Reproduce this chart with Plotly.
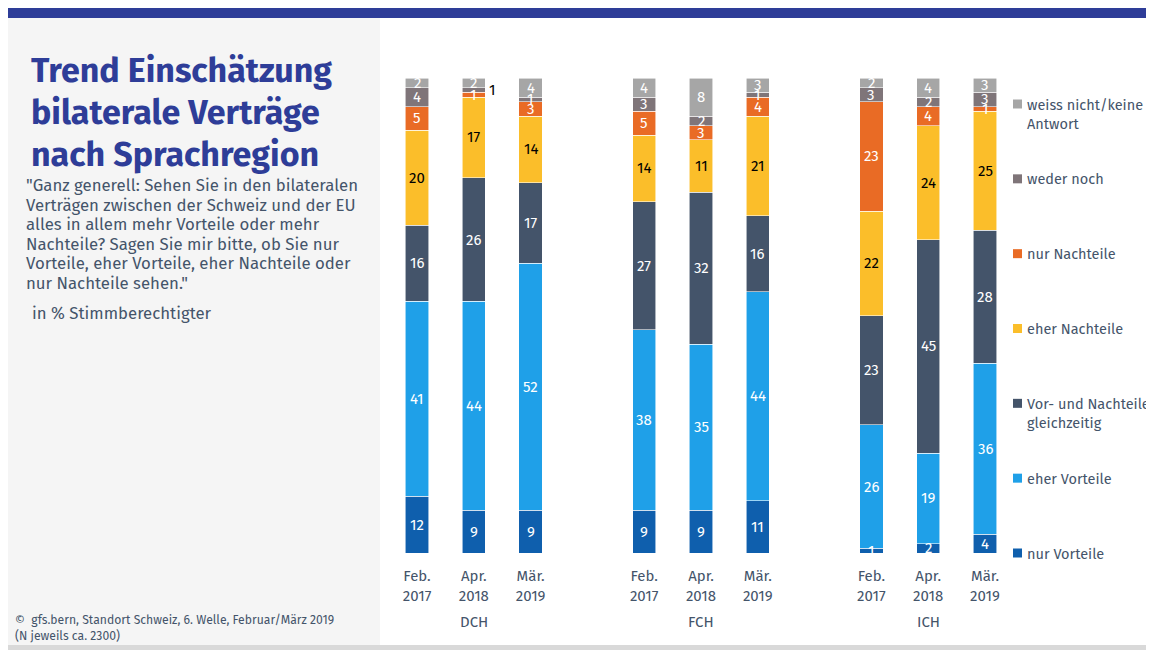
import plotly.graph_objects as go

# ---- data ----
periods = ["Feb.<br>2017", "Apr.<br>2018", "Mär.<br>2019"]
regions = ["DCH", "FCH", "ICH"]
series_names = ["nur Vorteile", "eher Vorteile", "Vor- und Nachteile<br>gleichzeitig",
                "eher Nachteile", "nur Nachteile", "weder noch", "weiss nicht/keine<br>Antwort"]
colors = ["#0F5FAD", "#1FA0E8", "#44546A", "#FBBE2A", "#E96B25", "#7F7579", "#A6A6A6"]
label_colors = ["white", "white", "white", "black", "white", "white", "white"]

# order: DCH(Feb17, Apr18, Mar19), FCH(...), ICH(...)
nur_vorteile =   [12, 9, 9,   9, 9, 11,   1, 2, 4]
eher_vorteile =  [41, 44, 52, 38, 35, 44, 26, 19, 36]
vor_nachteile =  [16, 26, 17, 27, 32, 16, 23, 45, 28]
eher_nachteile = [20, 17, 14, 14, 11, 21, 22, 24, 25]
nur_nachteile =  [5, 1, 3,    5, 3, 4,    23, 4, 1]
weder_noch =     [4, 1, 1,    3, 2, 1,    3, 2, 3]
weiss_nicht =    [2, 2, 4,    4, 8, 3,    2, 4, 3]
series = [nur_vorteile, eher_vorteile, vor_nachteile, eher_nachteile,
          nur_nachteile, weder_noch, weiss_nicht]

title_lines = ["Trend Einschätzung", "bilaterale Verträge", "nach Sprachregion"]
subtitle_lines = ['"Ganz generell: Sehen Sie in den bilateralen',
                  'Verträgen zwischen der Schweiz und der EU',
                  'alles in allem mehr Vorteile oder mehr',
                  'Nachteile? Sagen Sie mir bitte, ob Sie nur',
                  'Vorteile, eher Vorteile, eher Nachteile oder',
                  'nur Nachteile sehen."']
unit_text = "in % Stimmberechtigter"
footer_text = "©  gfs.bern, Standort Schweiz, 6. Welle, Februar/März 2019<br>(N jeweils ca. 2300)"

# x slots with a gap between regions
xpos = [0, 1, 2, 4, 5, 6, 8, 9, 10]
ticktexts = periods * 3

W, H = 1154, 650
OFF = 8  # page body margin
def px_x(p): return (p - OFF) / W
def px_y(p): return 1 - (p - OFF) / H

font_fam = "Fira Sans, Open Sans, Noto Sans, sans-serif"
text_col = "#44546A"

fig = go.Figure()
for name, vals, col in zip(series_names, series, colors):
    fig.add_trace(go.Bar(x=xpos, y=vals, name=name, marker_color=col,
                         marker_line=dict(width=0.8, color="rgba(255,255,255,0.7)"),
                         width=0.41, showlegend=False, hoverinfo="skip"))

annotations = []
# segment labels
for i, x in enumerate(xpos):
    base = 0
    for s, vals in enumerate(series):
        v = vals[i]
        mid = base + v / 2
        base += v
        if s == 5 and i == 1:
            annotations.append(dict(x=x + 0.33, y=mid, xref="x", yref="y", text=str(v),
                                    showarrow=False, xanchor="center",
                                    font=dict(size=15, color="black", family=font_fam)))
        else:
            annotations.append(dict(x=x, y=mid, xref="x", yref="y", text=str(v),
                                    showarrow=False,
                                    font=dict(size=15, color=label_colors[s], family=font_fam)))

# region labels
for r, name in enumerate(regions):
    annotations.append(dict(x=xpos[r * 3 + 1], y=px_y(622), xref="x", yref="paper", text=name,
                            showarrow=False, yanchor="middle",
                            font=dict(size=15, color=text_col, family=font_fam)))

# legend (custom)
shapes = []
legend_top, legend_bottom = 104, 553
n = len(series_names)
for k in range(n):
    idx = n - 1 - k
    yc = legend_top + k * (legend_bottom - legend_top) / (n - 1)
    shapes.append(dict(type="rect", xref="paper", yref="paper",
                       x0=px_x(1013), x1=px_x(1022), y0=px_y(yc + 4.5), y1=px_y(yc - 4.5),
                       fillcolor=colors[idx], line=dict(width=0)))
    annotations.append(dict(x=px_x(1025), y=px_y(yc - 10.5), xref="paper", yref="paper",
                            text=series_names[idx], showarrow=False, xanchor="left",
                            yanchor="top", align="left",
                            font=dict(size=14.5, color=text_col, family=font_fam)))

# background decoration
shapes.insert(0, dict(type="rect", xref="paper", yref="paper", layer="below",
                      x0=0, x1=px_x(380), y0=px_y(645), y1=px_y(18),
                      fillcolor="#F5F5F5", line=dict(width=0)))
shapes.insert(0, dict(type="rect", xref="paper", yref="paper", layer="below",
                      x0=0, x1=1, y0=px_y(18), y1=1,
                      fillcolor="#2E3D98", line=dict(width=0)))
shapes.insert(0, dict(type="rect", xref="paper", yref="paper", layer="below",
                      x0=0, x1=1, y0=px_y(650), y1=px_y(645),
                      fillcolor="#D9D9D9", line=dict(width=0)))

# title lines
for j, t in enumerate(title_lines):
    annotations.append(dict(x=px_x(29), y=px_y(71 + j * 41.5), xref="paper", yref="paper",
                            text="<b>" + t + "</b>", showarrow=False, xanchor="left",
                            yanchor="middle",
                            font=dict(size=34, color="#2E3D98", family=font_fam)))

for j, t in enumerate(subtitle_lines):
    annotations.append(dict(x=px_x(24), y=px_y(185 + j * 19.6), xref="paper", yref="paper",
                            text=t, showarrow=False, xanchor="left", yanchor="middle",
                            font=dict(size=16.8, color=text_col, family=font_fam)))
annotations.append(dict(x=px_x(30), y=px_y(313), xref="paper", yref="paper",
                        text=unit_text, showarrow=False, xanchor="left",
                        yanchor="middle",
                        font=dict(size=16.8, color=text_col, family=font_fam)))
annotations.append(dict(x=px_x(13), y=px_y(611), xref="paper", yref="paper",
                        text=footer_text,
                        showarrow=False, xanchor="left", yanchor="top", align="left",
                        font=dict(size=12.2, color=text_col, family=font_fam)))

fig.update_layout(
    width=W, height=H,
    barmode="stack",
    margin=dict(l=0, r=0, t=0, b=0),
    paper_bgcolor="white",
    plot_bgcolor="rgba(0,0,0,0)",
    xaxis=dict(domain=[px_x(388.6), px_x(1013.4)], range=[-0.5, 10.5],
               tickmode="array", tickvals=xpos, ticktext=ticktexts,
               showgrid=False, zeroline=False, showline=False, ticks="",
               ticklabelstandoff=12,
               tickfont=dict(size=15, color=text_col, family=font_fam)),
    yaxis=dict(domain=[px_y(553), px_y(78)], range=[0, 100], visible=False),
    annotations=annotations,
    shapes=shapes,
)

fig.write_html("out.html")
